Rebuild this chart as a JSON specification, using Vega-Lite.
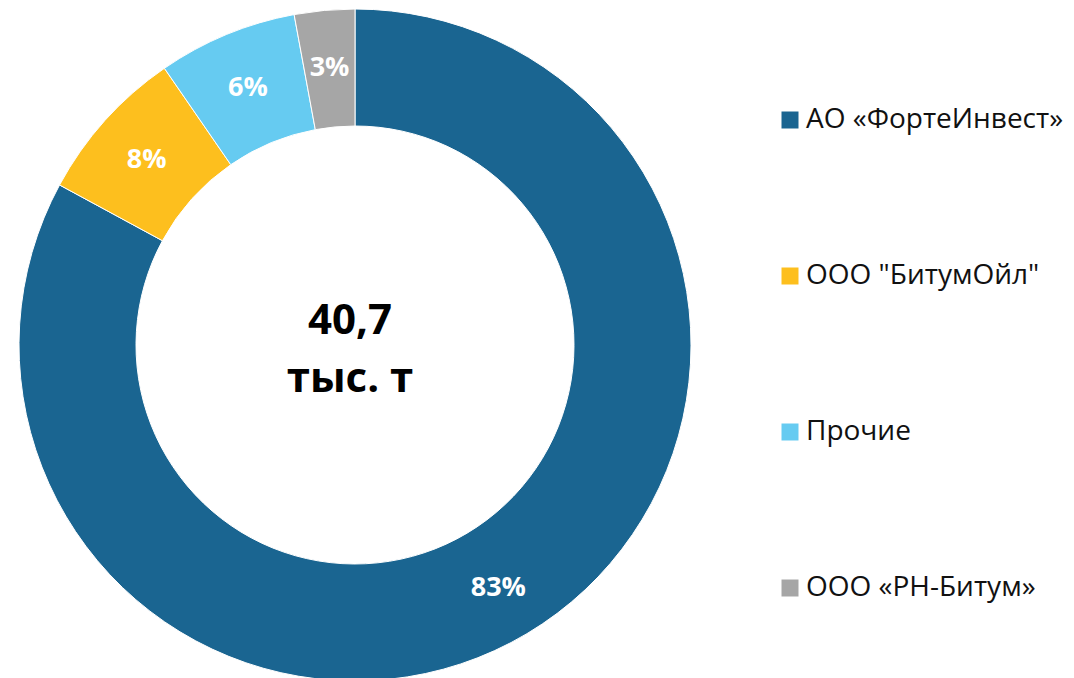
{
  "$schema": "https://vega.github.io/schema/vega-lite/v6.json",
  "width": 710,
  "height": 690,
  "padding": 0,
  "background": "white",
  "config": {"view": {"stroke": null}, "font": "Open Sans"},
  "datasets": {
    "shares": [
      {"company": "АО «ФортеИнвест»", "share": 82.9, "label": "83%", "order": 1},
      {"company": "ООО \"БитумОйл\"", "share": 7.5, "label": "8%", "order": 2},
      {"company": "Прочие", "share": 6.7, "label": "6%", "order": 3},
      {"company": "ООО «РН-Битум»", "share": 2.9, "label": "3%", "order": 4}
    ],
    "center": [{"text": "40,7\nтыс. т"}]
  },
  "layer": [
    {
      "data": {"name": "shares"},
      "mark": {"type": "arc", "outerRadius": 336, "innerRadius": 219, "stroke": "white", "strokeWidth": 1},
      "encoding": {
        "theta": {"field": "share", "type": "quantitative", "stack": true},
        "order": {"field": "order", "type": "quantitative"},
        "color": {
          "field": "company",
          "type": "nominal",
          "scale": {
            "domain": ["АО «ФортеИнвест»", "ООО \"БитумОйл\"", "Прочие", "ООО «РН-Битум»"],
            "range": ["#1a6591", "#fdbf1e", "#66cbf1", "#a6a6a6"]
          },
          "legend": {
            "title": null,
            "orient": "none",
            "legendX": 776,
            "legendY": 106,
            "symbolType": "square",
            "symbolSize": 289,
            "symbolStrokeWidth": 0,
            "labelFontSize": 28,
            "labelFont": "Open Sans",
            "labelColor": "#111111",
            "labelOffset": 2,
            "labelLimit": 400,
            "rowPadding": 128
          }
        }
      }
    },
    {
      "data": {"name": "shares"},
      "mark": {"type": "text", "radius": 280, "fontSize": 27, "fontWeight": "bold", "font": "Open Sans", "color": "white", "dy": 2},
      "encoding": {
        "theta": {"field": "share", "type": "quantitative", "stack": true},
        "order": {"field": "order", "type": "quantitative"},
        "text": {"field": "label", "type": "nominal"}
      }
    },
    {
      "data": {"name": "center"},
      "mark": {"type": "text", "fontSize": 42, "fontWeight": "bold", "font": "Open Sans", "color": "black", "lineBreak": "\n", "lineHeight": 58, "baseline": "middle", "dy": -24, "dx": -5},
      "encoding": {
        "text": {"field": "text", "type": "nominal"}
      }
    }
  ]
}
